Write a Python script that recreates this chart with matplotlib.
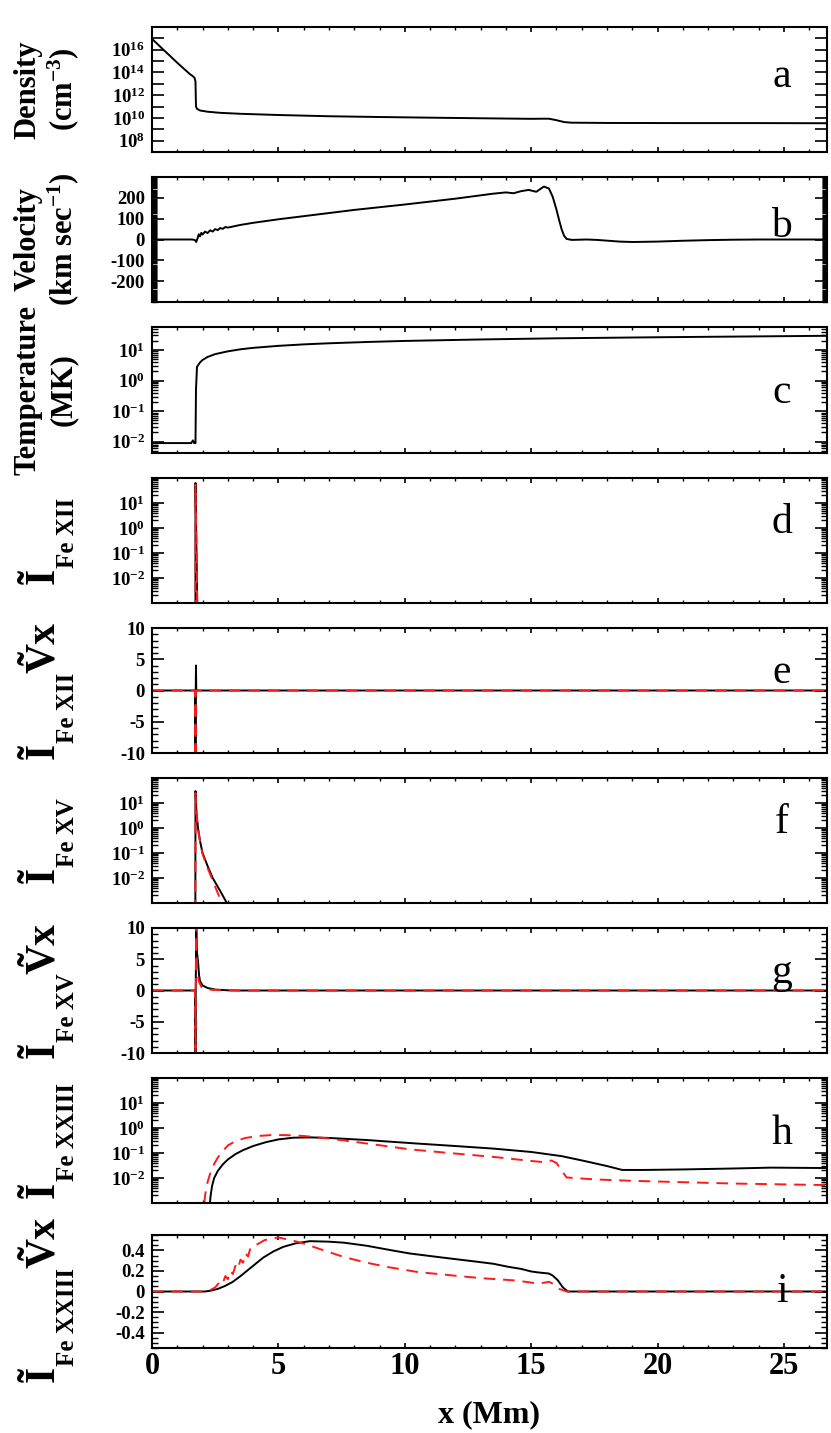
import matplotlib
matplotlib.use('Agg')
import matplotlib.pyplot as plt
from matplotlib.ticker import MultipleLocator, FixedLocator, FuncFormatter, NullLocator, LogLocator, NullFormatter
import numpy as np

plt.rcParams['font.family'] = ['Liberation Serif', 'DejaVu Serif']
plt.rcParams['font.weight'] = 'bold'
plt.rcParams['mathtext.fontset'] = 'custom'
plt.rcParams['mathtext.rm'] = 'Liberation Serif:bold'
plt.rcParams['mathtext.it'] = 'Liberation Serif:bold'
plt.rcParams['mathtext.bf'] = 'Liberation Serif:bold'
plt.rcParams['axes.unicode_minus'] = False

# ---- data ----
# (a) density, cm^-3
dens_x = [0, 0.5, 1.0, 1.5, 1.6, 1.68, 1.72, 1.74, 1.78, 1.9, 2.2, 2.7, 3.5, 5, 7, 9, 11, 13,
          15, 15.4, 15.7, 16.0, 16.3, 16.6, 18, 21, 24, 26.7]
dens = [9.1e16, 7.9e15, 7.1e14, 7.1e13, 5.0e13, 3.5e13, 1.6e13, 1.0e11, 6.3e10, 4.5e10, 3.5e10,
        2.8e10, 2.3e10, 1.8e10, 1.4e10, 1.2e10, 1.05e10, 9.3e9, 8.3e9, 8.5e9, 8.5e9, 6.3e9,
        4.3e9, 3.8e9, 3.6e9, 3.5e9, 3.5e9, 3.4e9]

# (b) velocity, km/s
vel_x = [0, 1.6, 1.7, 1.75, 1.8, 1.85, 1.9, 1.95, 2.0, 2.1, 2.2, 2.3, 2.4, 2.5, 2.6, 2.7, 2.8,
         2.9, 3.0, 3.5, 4, 5, 6, 7, 8, 9, 10, 11, 12, 13, 13.5, 14, 14.3, 14.6, 14.9, 15.2,
         15.5, 15.7, 15.85, 16.0, 16.1, 16.2, 16.3, 16.4, 16.6, 17.2, 17.6, 18.5, 19, 20, 21,
         22, 23, 24, 26.7]
vel = [0, 0, -3, -12, 5, 25, 15, 32, 24, 38, 31, 44, 38, 50, 45, 55, 51, 60, 57, 70, 80, 97,
       112, 127, 142, 155, 168, 182, 196, 212, 220, 226, 222, 232, 238, 229, 254, 245, 205,
       143, 95, 50, 18, 3, -2, 0, -2, -10, -12, -10, -6, -3, -1, 0, 0]

# (c) temperature, MK
temp_x = [0, 1.55, 1.62, 1.67, 1.72, 1.74, 1.78, 1.9, 2.0, 2.2, 2.5, 3.0, 3.5, 4.0, 5, 6, 7,
          8.5, 10, 13, 16, 20, 26.7]
temp = [0.009, 0.009, 0.011, 0.009, 0.009, 0.5, 2.8, 3.9, 4.7, 5.9, 7.3, 9.0, 10.5, 11.7,
        13.6, 15.2, 16.5, 18.2, 19.7, 22, 24, 26, 29]

# (d) Fe XII intensity
fe12_x = [1.70, 1.719, 1.72, 1.79, 1.80]
fe12_i = [1e-8, 1e-8, 63, 1e-3, 1e-8]
fe12_i_red = [1e-8, 1e-8, 55, 8e-4, 1e-8]

# (e) Fe XII intensity * Vx
fe12v_x = [0, 1.71, 1.72, 1.73, 1.74, 1.75, 1.76, 26.7]
fe12v = [0, 0, -11, 0, 4, 0, 0, 0]
fe12v_red = [0, 0, -11, 0, 0, 0, 0, 0]

# (f) Fe XV intensity
fe15_x = [1.71, 1.72, 1.76, 1.82, 1.9, 2.0, 2.2, 2.4, 2.7, 2.96, 3.0]
fe15_i = [1e-8, 30, 4, 1.0, 0.3, 0.1, 0.03, 0.01, 0.003, 0.001, 1e-8]
fe15_x_red = [1.71, 1.72, 1.76, 1.82, 1.9, 2.0, 2.2, 2.4, 2.6, 2.77, 2.8]
fe15_i_red = [1e-8, 25, 3.5, 0.9, 0.28, 0.09, 0.025, 0.008, 0.0025, 0.001, 1e-8]

# (g) Fe XV intensity * Vx
fe15v_x = [0, 1.70, 1.72, 1.73, 1.75, 1.78, 1.82, 1.86, 1.9, 2.0, 2.2, 2.5, 3.0, 3.5, 26.7]
fe15v = [0, 0, -10.5, 0, 10.5, 6, 4.7, 2.5, 1.5, 0.8, 0.4, 0.15, 0.03, 0, 0]
fe15v_x_red = [0, 1.70, 1.72, 1.73, 1.75, 1.78, 1.85, 1.95, 2.1, 2.4, 3.0, 26.7]
fe15v_red = [0, 0, -10.5, 0, 10.5, 3.5, 1.5, 0.6, 0.25, 0.1, 0, 0]

# (h) Fe XXIII intensity
fe23_x = [2.29, 2.32, 2.38, 2.46, 2.6, 2.8, 3.0, 3.3, 3.6, 4.0, 4.5, 5.0, 5.6, 6.3, 7.0, 8.5,
          10.2, 12.0, 13.5, 15.0, 16.2, 17.1, 18.0, 18.6, 19.5, 21, 23, 24.5, 26.7]
fe23_i = [0.001, 0.002, 0.005, 0.01, 0.019, 0.035, 0.055, 0.09, 0.13, 0.19, 0.27, 0.35, 0.41,
          0.42, 0.40, 0.33, 0.25, 0.19, 0.15, 0.11, 0.075, 0.048, 0.030, 0.021, 0.021, 0.022,
          0.024, 0.026, 0.025]
fe23_x_red = [2.07, 2.1, 2.15, 2.2, 2.3, 2.45, 2.6, 2.8, 3.0, 3.3, 3.7, 4.2, 4.7, 5.3, 6.0,
              7.0, 8.5, 10.2, 12.0, 13.5, 15.0, 15.5, 15.8, 16.0, 16.2, 16.4, 17.5, 19, 21, 23,
              26.7]
fe23_i_red = [0.001, 0.002, 0.004, 0.007, 0.015, 0.035, 0.065, 0.12, 0.2, 0.3, 0.4, 0.48, 0.52,
              0.52, 0.48, 0.38, 0.24, 0.14, 0.095, 0.07, 0.048, 0.043, 0.05, 0.04, 0.02, 0.0105,
              0.0088, 0.0077, 0.0068, 0.006, 0.0052]

# (i) Fe XXIII intensity * Vx
fe23v_x = [0, 2.1, 2.3, 2.6, 2.9, 3.2, 3.5, 3.8, 4.1, 4.4, 4.8, 5.2, 5.7, 6.25, 7.0, 7.6, 8.5,
           9.5, 10.2, 11.5, 12.75, 13.5, 14.1, 14.6, 15.0, 15.3, 15.5, 15.7, 15.85, 16.05,
           16.25, 16.45, 26.7]
fe23v = [0, 0, 0.007, 0.025, 0.055, 0.095, 0.15, 0.21, 0.27, 0.33, 0.39, 0.435, 0.47, 0.49,
         0.485, 0.475, 0.445, 0.4, 0.37, 0.33, 0.293, 0.27, 0.24, 0.22, 0.195, 0.185, 0.18,
         0.175, 0.155, 0.11, 0.04, 0, 0]
fe23v_x_red = [0, 2.2, 2.5, 2.7, 2.8, 2.9, 3.0, 3.1, 3.2, 3.3, 3.4, 3.5, 3.6, 3.7, 3.8, 3.9,
               4.1, 4.45, 5.0, 5.5, 6.0, 6.8, 7.6, 8.5, 9.35, 10.5, 11.9, 13.0, 14.4, 15.2,
               15.5, 15.7, 15.9, 16.1, 16.4, 26.7]
fe23v_red = [0, 0, 0.04, 0.1, 0.08, 0.15, 0.12, 0.2, 0.17, 0.25, 0.22, 0.31, 0.28, 0.37, 0.34,
             0.43, 0.45, 0.5, 0.526, 0.5, 0.467, 0.4, 0.335, 0.28, 0.237, 0.19, 0.156, 0.13,
             0.107, 0.08, 0.085, 0.095, 0.07, 0.026, 0, 0]

letters = ['a', 'b', 'c', 'd', 'e', 'f', 'g', 'h', 'i']
ions = ['Fe XII', 'Fe XII', 'Fe XV', 'Fe XV', 'Fe XXIII', 'Fe XXIII']

# ---- layout (pixels of the 831x1433 figure) ----
W, H = 831, 1433
tops = [27, 177, 327, 478, 628, 778, 928, 1078, 1235]
bots = [152, 302, 453, 603, 753, 903, 1053, 1203, 1348]
left_px, right_px = 152, 827
letter_y = [0.60, 0.60, 0.48, 0.64, 0.64, 0.64, 0.64, 0.55, 0.50]

fig = plt.figure(figsize=(W / 100, H / 100), dpi=100)
renderer = fig.canvas.get_renderer()
axes = []
for t, b in zip(tops, bots):
    ax = fig.add_axes([left_px / W, 1 - b / H, (right_px - left_px) / W, (b - t) / H])
    axes.append(ax)

RED = '#ff1a1a'


def log_label(v, pos):
    return r'$10^{%d}$' % int(round(np.log10(v)))


for k, ax in enumerate(axes):
    ax.set_xlim(0, 26.7)
    ax.xaxis.set_major_locator(MultipleLocator(5))
    ax.xaxis.set_minor_locator(MultipleLocator(1))
    ax.tick_params(axis='x', which='major', direction='in', length=3.5, width=1.2,
                   top=True, bottom=True, labelbottom=False)
    ax.tick_params(axis='x', which='minor', direction='in', length=2, width=1.0,
                   top=True, bottom=True)
    ax.tick_params(axis='y', which='major', direction='in', length=8.5, width=1.2,
                   left=True, right=True, labelsize=13.5, pad=5)
    ax.tick_params(axis='y', which='minor', direction='in', length=4.3, width=1.0,
                   left=True, right=True)
    for s in ax.spines.values():
        s.set_linewidth(1.5)
    ax.text(0.933, letter_y[k], letters[k], transform=ax.transAxes, fontsize=30,
            fontweight='normal', ha='center', va='center')

lw = 1.4
dash = (6, 4)

# a
ax = axes[0]
ax.plot(dens_x, dens, color='k', lw=lw)
ax.set_yscale('log')
ax.set_ylim(1e7, 1e18)
ax.yaxis.set_major_locator(FixedLocator([10.0 ** e for e in range(8, 18)]))
ax.yaxis.set_major_formatter(FuncFormatter(
    lambda v, p: r'$10^{%d}$' % int(round(np.log10(v))) if int(round(np.log10(v))) % 2 == 0 and np.log10(v) < 16.5 else ''))
ax.yaxis.set_minor_locator(NullLocator())

# b
ax = axes[1]
ax.plot(vel_x, vel, color='k', lw=lw)
ax.set_ylim(-300, 300)
ax.yaxis.set_major_locator(FixedLocator([-200, -100, 0, 100, 200]))
ax.yaxis.set_minor_locator(MultipleLocator(5))
ax.tick_params(axis='y', which='minor', length=3.5)

# c
ax = axes[2]
ax.plot(temp_x, temp, color='k', lw=lw)
ax.set_yscale('log')
ax.set_ylim(10 ** -2.37, 10 ** 1.75)
ax.yaxis.set_major_locator(FixedLocator([1e-2, 1e-1, 1, 10]))
ax.yaxis.set_major_formatter(FuncFormatter(log_label))
ax.yaxis.set_minor_locator(LogLocator(base=10, subs=np.arange(2, 10), numticks=20))
ax.yaxis.set_minor_formatter(NullFormatter())

# intensity panels d, f, h
for ax, xs, ys, xr, yr in [(axes[3], fe12_x, fe12_i, fe12_x, fe12_i_red),
                           (axes[5], fe15_x, fe15_i, fe15_x_red, fe15_i_red),
                           (axes[7], fe23_x, fe23_i, fe23_x_red, fe23_i_red)]:
    ax.plot(xs, ys, color='k', lw=lw)
    ax.plot(xr, yr, color=RED, lw=lw, dashes=dash)
    ax.set_yscale('log')
    ax.set_ylim(1e-3, 1e2)
    ax.yaxis.set_major_locator(FixedLocator([1e-2, 1e-1, 1, 10]))
    ax.yaxis.set_major_formatter(FuncFormatter(log_label))
    ax.yaxis.set_minor_locator(LogLocator(base=10, subs=np.arange(2, 10), numticks=20))
    ax.yaxis.set_minor_formatter(NullFormatter())

# velocity-weighted panels e, g
for ax, xs, ys, xr, yr in [(axes[4], fe12v_x, fe12v, fe12v_x, fe12v_red),
                           (axes[6], fe15v_x, fe15v, fe15v_x_red, fe15v_red)]:
    ax.plot(xs, ys, color='k', lw=lw)
    ax.plot(xr, yr, color=RED, lw=lw, dashes=dash)
    ax.set_ylim(-10, 10)
    ax.yaxis.set_major_locator(FixedLocator([-10, -5, 0, 5, 10]))
    ax.yaxis.set_minor_locator(MultipleLocator(1))

# i
ax = axes[8]
ax.plot(fe23v_x, fe23v, color='k', lw=lw)
ax.plot(fe23v_x_red, fe23v_red, color=RED, lw=lw, dashes=dash)
ax.set_ylim(-0.55, 0.55)
ax.yaxis.set_major_locator(FixedLocator([-0.4, -0.2, 0, 0.2, 0.4]))
ax.yaxis.set_major_formatter(FuncFormatter(lambda v, p: '%g' % round(v, 2)))
ax.yaxis.set_minor_locator(MultipleLocator(0.05))
ax.tick_params(axis='x', which='major', labelbottom=True, labelsize=22, pad=3)
fig.text((left_px + right_px) / 2 / W, 1 - 1415 / H, 'x (Mm)', fontsize=23,
         fontweight='bold', ha='center', va='center')


# ---- y labels ----
def ycenter(k):
    return (tops[k] + bots[k]) / 2


lab_kw = dict(rotation=90, ha='center', va='center', fontsize=22, fontweight='bold')
fig.text(28 / W, 1 - ycenter(0) / H, 'Density', **lab_kw)
fig.text(63 / W, 1 - ycenter(0) / H, r'(cm$^{-3}$)', **lab_kw)
fig.text(28 / W, 1 - ycenter(1) / H, 'Velocity', **lab_kw)
fig.text(63 / W, 1 - ycenter(1) / H, r'(km sec$^{-1}$)', **lab_kw)
fig.text(28 / W, 1 - ycenter(2) / H, 'Temperature', **lab_kw)
fig.text(63 / W, 1 - ycenter(2) / H, '(MK)', **lab_kw)


def stack_label(yc, pieces):
    # pieces: (text, fontsize, x centre px) stacked bottom to top, rotated
    items = []
    total = 0
    for s, size, xc in pieces:
        t = fig.text(xc / W, 0.5, s, rotation=90, ha='center', va='bottom',
                     fontsize=size, fontweight='bold')
        L = t.get_window_extent(renderer).height
        items.append((t, L))
        total += L
    y = yc + total / 2
    for t, L in items:
        t.set_y(1 - y / H)
        y -= L


for j, ion in enumerate(ions):
    pieces = [('\u0128', 30, 44), (ion, 18, 67)]
    if j % 2 == 1:
        pieces += [('\u1e7cx', 30, 44)]
    yc = ycenter(j + 3) + (8 if j == 5 else 0)
    stack_label(yc, pieces)

fig.savefig('out.png', dpi=100)
